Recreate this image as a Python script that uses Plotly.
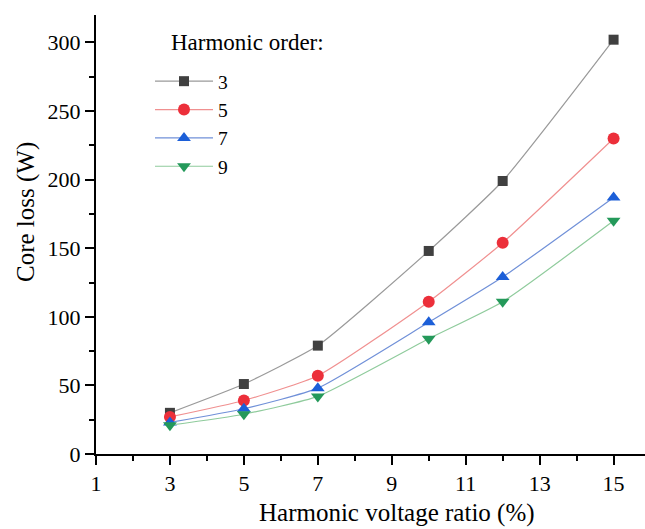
import plotly.graph_objects as go

x_ratio = [3, 5, 7, 10, 12, 15]
orders = ["3", "5", "7", "9"]
loss_h3 = [30, 51, 79, 148, 199, 302]
loss_h5 = [27, 39, 57, 111, 154, 230]
loss_h7 = [23, 33, 48, 96, 129, 187]
loss_h9 = [21, 29, 42, 84, 111, 170]
x_ticks = [1, 3, 5, 7, 9, 11, 13, 15]
y_ticks = [0, 50, 100, 150, 200, 250, 300]

series = [loss_h3, loss_h5, loss_h7, loss_h9]
line_colors = ["#9a9a9a", "#f09090", "#7090d8", "#8fcb9c"]
marker_colors = ["#404040", "#ec2f3a", "#1c5fd8", "#24995a"]
symbols = ["square", "circle", "triangle-up", "triangle-down"]
sizes = [10, 12, 12, 12]

FONT = "Liberation Serif, Times New Roman, serif"

fig = go.Figure()
for name, ys, lc, mc, sym, sz in zip(orders, series, line_colors, marker_colors, symbols, sizes):
    fig.add_trace(go.Scatter(
        x=x_ratio, y=ys, name=name, mode="lines+markers",
        line=dict(color=lc, width=1.2, shape="spline", smoothing=0.5),
        marker=dict(symbol=sym, size=sz, color=mc, line=dict(width=0)),
    ))

axis_common = dict(
    showgrid=False, zeroline=False, showline=True, linecolor="black", linewidth=2,
    ticks="outside", ticklen=9, tickwidth=2, tickcolor="black",
    tickfont=dict(family=FONT, size=22, color="black"),
)

fig.update_xaxes(
    range=[1, 15.85], tickvals=x_ticks, ticktext=[str(v) for v in x_ticks],
    minor=dict(ticks="outside", ticklen=5, tickwidth=2, tickcolor="black", dtick=1, tick0=0),
    **axis_common,
)
fig.update_yaxes(
    range=[0, 320], tickvals=y_ticks, ticktext=[str(v) for v in y_ticks],
    minor=dict(ticks="outside", ticklen=5, tickwidth=2, tickcolor="black", dtick=25, tick0=0),
    **axis_common,
)

PW, PH = 549, 439
fig.add_annotation(text="Harmonic voltage ratio (%)", xref="paper", yref="paper",
                   x=(397 - 96) / PW, y=-(513 - 454) / PH, showarrow=False,
                   font=dict(family=FONT, size=25, color="black"), xanchor="center", yanchor="middle")
fig.add_annotation(text="Core loss (W)", xref="paper", yref="paper",
                   x=-(96 - 26) / PW, y=(454 - 212) / PH, showarrow=False, textangle=-90,
                   font=dict(family=FONT, size=25, color="black"), xanchor="center", yanchor="middle")
fig.add_annotation(text="Harmonic order:", xref="paper", yref="paper",
                   x=(169 - 96) / PW, y=(454 - 42) / PH, showarrow=False,
                   font=dict(family=FONT, size=23, color="black"), xanchor="left", yanchor="middle")

fig.update_layout(
    width=645, height=529,
    margin=dict(l=96, r=0, t=15, b=75),
    paper_bgcolor="white", plot_bgcolor="white",
    showlegend=True,
    legend=dict(
        font=dict(family=FONT, size=19.5, color="black"),
        x=(150 - 96) / PW, y=(454 - 62) / PH, xanchor="left", yanchor="top",
        bgcolor="rgba(0,0,0,0)", itemwidth=58, tracegroupgap=0,
    ),
)

fig.write_html("out.html")
